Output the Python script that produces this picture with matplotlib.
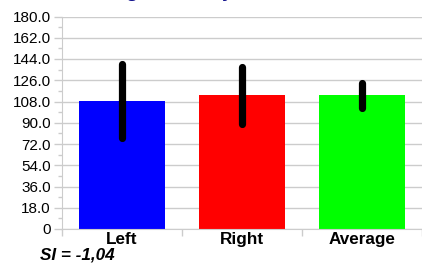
import numpy as np
import matplotlib
matplotlib.use("Agg")
import matplotlib.pyplot as plt
from matplotlib.ticker import MultipleLocator, FuncFormatter

plt.rcParams['font.family'] = ['Liberation Sans', 'DejaVu Sans']

# data
categories = ['Left', 'Right', 'Average']
values = [108.6, 113.2, 113.2]
errors = [31.5, 24.2, 10.3]
colors = ['#0000ff', '#ff0000', '#00ff00']
title = 'Hamstring Flexibility'
si_text = 'SI = -1,04'

fig = plt.figure(figsize=(4.22, 2.64), dpi=100)
ax = fig.add_axes([62 / 422, 1 - 229 / 264, 1 - 62 / 422, (229 - 16.5) / 264])

x = np.arange(len(categories))
ax.bar(x, values, width=0.71, color=colors, zorder=2)
for xi, v, e in zip(x, values, errors):
    ax.plot([xi, xi], [v - e, v + e], color='black', lw=5.2,
            solid_capstyle='round', zorder=3)

ax.set_xlim(-0.5, len(categories) - 0.5)
ax.set_ylim(0, 180)
ax.yaxis.set_major_locator(MultipleLocator(18))
ax.yaxis.set_minor_locator(MultipleLocator(9))
ax.yaxis.set_major_formatter(FuncFormatter(lambda v, p: '0' if v == 0 else f'{v:.1f}'))
ax.grid(axis='y', which='major', color='#cccccc', lw=1.0, zorder=0)

ax.set_xticks(x)
ax.set_xticklabels(categories, fontweight='bold', fontsize=12.3)
ax.set_xticks(np.arange(len(categories) + 1) - 0.5, minor=True)
ax.tick_params(axis='x', which='major', length=0, pad=2.5)
ax.tick_params(axis='x', which='minor', length=5, color='#cccccc', width=1)
ax.tick_params(axis='y', which='major', length=6, color='#cccccc', width=1,
               labelsize=11, pad=2)
ax.tick_params(axis='y', which='minor', length=3, color='#cccccc', width=1)

for s in ['top', 'right']:
    ax.spines[s].set_visible(False)
for s in ['left', 'bottom']:
    ax.spines[s].set_color('#cccccc')

# title sits mostly above the canvas, only descenders show
fig.text(43 / 422, 1 + 3 / 264, title, fontsize=14, fontweight='bold',
         fontstyle='italic', color='#10108c', ha='left', va='baseline')
fig.text(40 / 422, 1 - 255 / 264, si_text, fontsize=12.3, fontweight='bold',
         fontstyle='italic', ha='left', va='center')

fig.savefig('out.png', dpi=100)
